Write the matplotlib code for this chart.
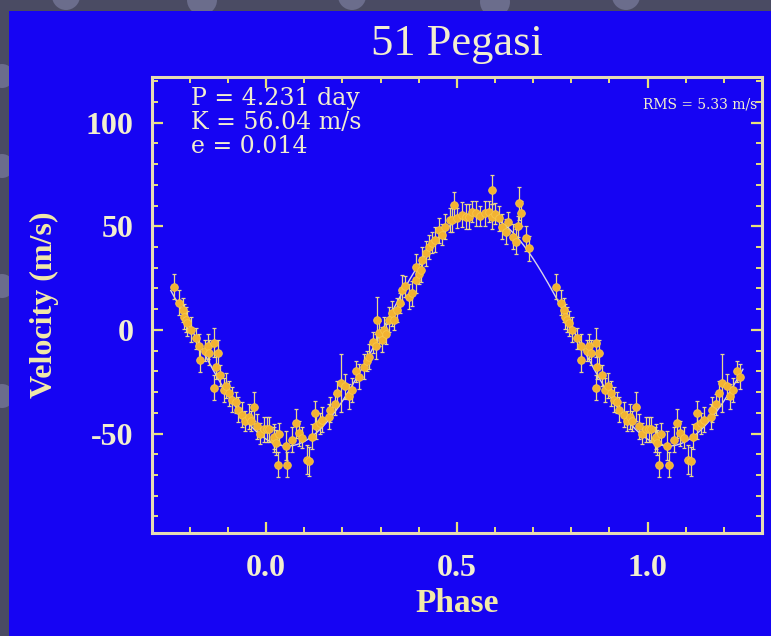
import numpy as np
import matplotlib
matplotlib.use("Agg")
import matplotlib.pyplot as plt
from matplotlib.patches import Rectangle, Ellipse
from matplotlib.ticker import MultipleLocator, FormatStrFormatter

plt.rcParams["axes.unicode_minus"] = False

# ---- orbital fit parameters (as printed on the chart) ----
PERIOD_DAYS = 4.231
K_AMP = 56.04          # m/s
ECC = 0.014
RMS = 5.33             # m/s
PHASE_ZERO = 0.305     # upward zero crossing of the fitted curve

# ---- radial-velocity measurements, folded on phase 0..1 ----
phase = [
    0.003, 0.008, 0.020, 0.021, 0.025, 0.030, 0.035, 0.051, 0.056, 0.069,
    0.078, 0.086, 0.095, 0.107, 0.113, 0.120, 0.129, 0.130, 0.140, 0.147,
    0.165, 0.168, 0.180, 0.186, 0.196, 0.208, 0.217, 0.225, 0.235, 0.243,
    0.257, 0.265, 0.270, 0.280, 0.287, 0.291, 0.296, 0.305, 0.309, 0.315,
    0.322, 0.331, 0.335, 0.344, 0.350, 0.357, 0.365, 0.374, 0.383, 0.392,
    0.392, 0.400, 0.405, 0.409, 0.418, 0.427, 0.435, 0.444, 0.453, 0.460,
    0.470, 0.483, 0.487, 0.492, 0.500, 0.514, 0.523, 0.531, 0.540, 0.549,
    0.560, 0.575, 0.585, 0.592, 0.592, 0.600, 0.610, 0.619, 0.628, 0.635,
    0.646, 0.654, 0.660, 0.662, 0.667, 0.680, 0.688, 0.759, 0.772, 0.781,
    0.784, 0.790, 0.793, 0.803, 0.815, 0.825, 0.826, 0.840, 0.847, 0.851,
    0.864, 0.868, 0.873, 0.864, 0.880, 0.889, 0.895, 0.903, 0.911, 0.920,
    0.925, 0.938, 0.945, 0.955, 0.960, 0.969, 0.977, 0.985, 0.995,
]
velocity = [
    -48.0, -48.0, -53.0, -51.5, -54.5, -65.0, -50.0, -56.0, -65.0, -53.0,
    -45.0, -49.8, -52.0, -62.7, -63.5, -51.5, -40.2, -46.6, -45.0, -43.4,
    -41.8, -38.6, -36.0, -30.5, -25.6, -27.3, -32.0, -29.0, -20.0, -22.5,
    -17.7, -15.0, -12.9, -6.0, -8.0, 4.8, -1.6, -4.8, 0.0, -2.0,
    4.8, 8.0, 5.0, 9.6, 13.0, 19.3, 21.0, 16.0, 17.7, 24.0,
    30.5, 27.0, 29.0, 33.8, 37.0, 40.0, 42.0, 43.4, 48.0, 46.0,
    49.8, 53.0, 53.0, 60.3, 54.0, 55.5, 54.6, 54.6, 57.0, 56.3,
    55.0, 56.3, 57.0, 67.5, 54.6, 56.0, 53.9, 49.8, 47.4, 52.0,
    45.0, 42.6, 50.0, 61.0, 56.3, 44.2, 39.4, 20.9, 13.0, 9.6,
    6.4, 4.8, 3.2, 0.0, -4.0, -8.0, -14.5, -10.0, -8.0, -11.0,
    -6.3, -17.7, -11.0, -28.0, -22.0, -29.0, -27.0, -30.5, -33.8, -35.0,
    -38.6, -41.0, -44.0, -41.8, -44.0, -37.0, -46.6, -50.0, -48.0,
]
error = [
    6, 6, 6, 6, 6, 6, 5, 7, 6, 6,
    7, 6, 5, 7, 7, 6, 6, 6, 5, 6,
    6, 6, 5, 6, 14, 6, 6, 6, 5, 6,
    6, 5, 6, 5, 6, 11, 6, 6, 6, 5,
    6, 6, 5, 6, 5, 7, 5, 6, 6, 6,
    6, 5, 6, 6, 6, 6, 5, 6, 6, 5,
    6, 6, 6, 6, 5, 6, 6, 6, 5, 6,
    5, 6, 5, 7, 6, 5, 6, 6, 6, 5,
    6, 6, 5, 8, 6, 6, 6, 6, 6, 6,
    6, 6, 6, 6, 5, 6, 6, 5, 6, 6,
    7, 6, 6, 6, 5, 6, 6, 6, 6, 5,
    6, 6, 5, 6, 5, 7, 6, 5, 6,
]

# ---- axis ranges and ticks ----
X_RANGE = (-0.30, 1.30)
Y_RANGE = (-98, 122)
X_TICKS = [0.0, 0.5, 1.0]
Y_TICKS = [-50, 0, 50, 100]
PLOT_WINDOW = (-0.25, 1.25)

# ---- colours ----
SLIDE_GREY = "#4A4B63"
BLUE = "#1604F3"
CREAM = "#F2EECF"
YELLOW_TXT = "#F2EAA8"
FRAME = "#E6DDB4"
TICK = "#E9E27A"
POINT = "#F2B233"
ERRBAR = "#E8D68E"
MODEL = "#D9D4EA"

W, H = 771, 636
fig = plt.figure(figsize=(W / 100, H / 100), dpi=100, facecolor=SLIDE_GREY)

# slide background: grey strip with a few faint bubbles, blue panel
for cx, cy, r in [(66, 640, 14), (202, 636, 15), (352, 640, 14), (495, 634, 15),
                  (626, 640, 14), (2, 560, 12), (2, 470, 12), (2, 350, 12),
                  (2, 240, 12)]:
    fig.add_artist(Ellipse((cx / W, cy / H), 2 * r / W, 2 * r / H,
                           transform=fig.transFigure, facecolor="#6B6D8C",
                           edgecolor="none", zorder=-20))
fig.add_artist(Rectangle((9 / W, 0), 1 - 9 / W, 1 - 11 / H,
                         transform=fig.transFigure, facecolor=BLUE,
                         edgecolor="none", zorder=-10))

left, right, top, bottom = 151.7, 762.0, 77.0, 533.0
ax = fig.add_axes([left / W, 1 - bottom / H, (right - left) / W, (bottom - top) / H])
ax.set_facecolor(BLUE)
ax.set_xlim(*X_RANGE)
ax.set_ylim(*Y_RANGE)

# fitted orbit drawn from the printed K and phase zero point
ph_model = np.linspace(PLOT_WINDOW[0], PLOT_WINDOW[1], 600)
v_model = K_AMP * np.sin(2 * np.pi * (ph_model - PHASE_ZERO))
ax.plot(ph_model, v_model, color=MODEL, lw=1.0, zorder=2)

# data repeated over the plotted phase window
ph = np.array(phase)
vel = np.array(velocity)
err = np.array(error, dtype=float)
xs, ys, es = [], [], []
for shift in (-1, 0, 1):
    p = ph + shift
    keep = (p >= PLOT_WINDOW[0]) & (p <= PLOT_WINDOW[1])
    xs.append(p[keep]); ys.append(vel[keep]); es.append(err[keep])
xs = np.concatenate(xs); ys = np.concatenate(ys); es = np.concatenate(es)

ax.errorbar(xs, ys, yerr=es, fmt="none", ecolor=ERRBAR, elinewidth=0.9,
            capsize=1.5, capthick=0.9, zorder=3)
ax.plot(xs, ys, "o", ms=5.5, mfc=POINT, mec="#F7C84A", mew=0.6, zorder=4)

# frame and ticks
for sp in ax.spines.values():
    sp.set_color(FRAME)
    sp.set_linewidth(2.2)
ax.xaxis.set_minor_locator(MultipleLocator(0.1))
ax.yaxis.set_minor_locator(MultipleLocator(10))
ax.set_xticks(X_TICKS)
ax.set_yticks(Y_TICKS)
ax.xaxis.set_major_formatter(FormatStrFormatter("%.1f"))
ax.tick_params(which="both", direction="in", top=True, right=True,
               colors=TICK, labelcolor=CREAM)
ax.tick_params(which="major", length=8, width=1.6)
ax.tick_params(which="minor", length=4, width=1.4)
ax.tick_params(axis="y", which="major", pad=13)
ax.tick_params(axis="x", which="major", pad=15)
for lab in ax.get_xticklabels() + ax.get_yticklabels():
    lab.set_family("Liberation Serif")
    lab.set_fontsize(23)
    lab.set_fontweight("bold")

# labels and title
serif = "Liberation Serif"
fig.text(457 / W, 1 - 44 / H, "51 Pegasi", ha="center", va="center",
         fontsize=32, family=serif, color=CREAM)
fig.text(457 / W, 1 - 603 / H, "Phase", ha="center", va="center",
         fontsize=24, family=serif, fontweight="bold", color=YELLOW_TXT)
fig.text(44 / W, 1 - 305 / H, "Velocity (m/s)", ha="center", va="center",
         rotation=90, fontsize=23, family=serif, fontweight="bold",
         color=YELLOW_TXT)

info = [f"P = {PERIOD_DAYS:.3f} day", f"K = {K_AMP:.2f} m/s", f"e = {ECC:.3f}"]
for i, line in enumerate(info):
    fig.text(191 / W, 1 - (99 + 23.5 * i) / H, line, ha="left", va="center",
             fontsize=17, family="DejaVu Serif", color=CREAM)
fig.text(757 / W, 1 - 104 / H, f"RMS = {RMS:.2f} m/s", ha="right", va="center",
         fontsize=10, family="DejaVu Serif", color=CREAM)

fig.savefig("out.png", dpi=100, facecolor=SLIDE_GREY)
